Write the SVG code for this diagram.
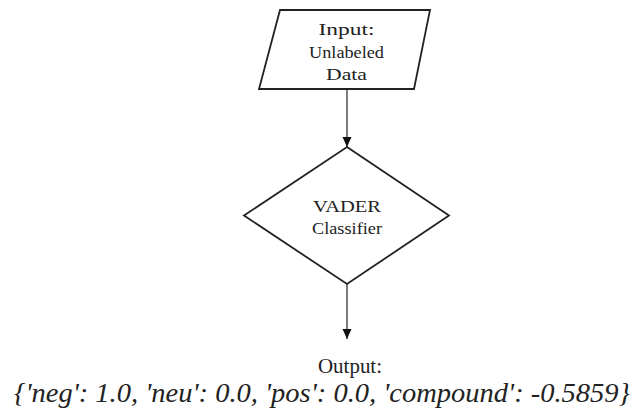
<svg xmlns="http://www.w3.org/2000/svg" width="635" height="416" viewBox="0 0 635 416">
<style>
.shape{fill:#ffffff;stroke:#222222;stroke-width:1.8;stroke-linejoin:miter}
.lbl{font-family:'Liberation Serif','DejaVu Serif',serif;font-size:17px;fill:#222222;text-anchor:middle}
.edge{stroke:#333333;stroke-width:1.3;fill:none}
</style>
<defs>
<marker id="arr" viewBox="0 0 10 10" refX="10" refY="5" markerWidth="10" markerHeight="10" markerUnits="userSpaceOnUse" orient="auto">
<path d="M0,0.5 L10,5 L0,9.5 Z" fill="#111111"/>
</marker>
</defs>
<rect width="635" height="416" fill="#ffffff"/>
<g id="connectors">
<line class="edge" x1="347" y1="89" x2="347" y2="147" marker-end="url(#arr)"/>
<line class="edge" x1="347" y1="284" x2="347" y2="339" marker-end="url(#arr)"/>
</g>
<g id="input">
<polygon class="shape" points="280,10 430,10 414,89 259,89"/>
<text class="lbl" x="346.5" y="35" textLength="56" lengthAdjust="spacingAndGlyphs">Input:</text>
<text class="lbl" x="346.5" y="57.5" textLength="75" lengthAdjust="spacingAndGlyphs">Unlabeled</text>
<text class="lbl" x="346.5" y="80" textLength="41" lengthAdjust="spacingAndGlyphs">Data</text>
</g>
<g id="classifier">
<polygon class="shape" points="347,147 449,215.5 347,284 244,215.5"/>
<text class="lbl" x="347" y="212" textLength="68" lengthAdjust="spacingAndGlyphs">VADER</text>
<text class="lbl" x="347" y="234" textLength="70" lengthAdjust="spacingAndGlyphs">Classifier</text>
</g>
<g id="output">
<text class="lbl" x="350" y="373" style="font-size:20px" textLength="64" lengthAdjust="spacingAndGlyphs">Output:</text>
<text class="lbl" x="322" y="402" style="font-size:27px;font-style:italic" textLength="616" lengthAdjust="spacingAndGlyphs">{'neg': 1.0, 'neu': 0.0, 'pos': 0.0, 'compound': -0.5859}</text>
</g>
</svg>
